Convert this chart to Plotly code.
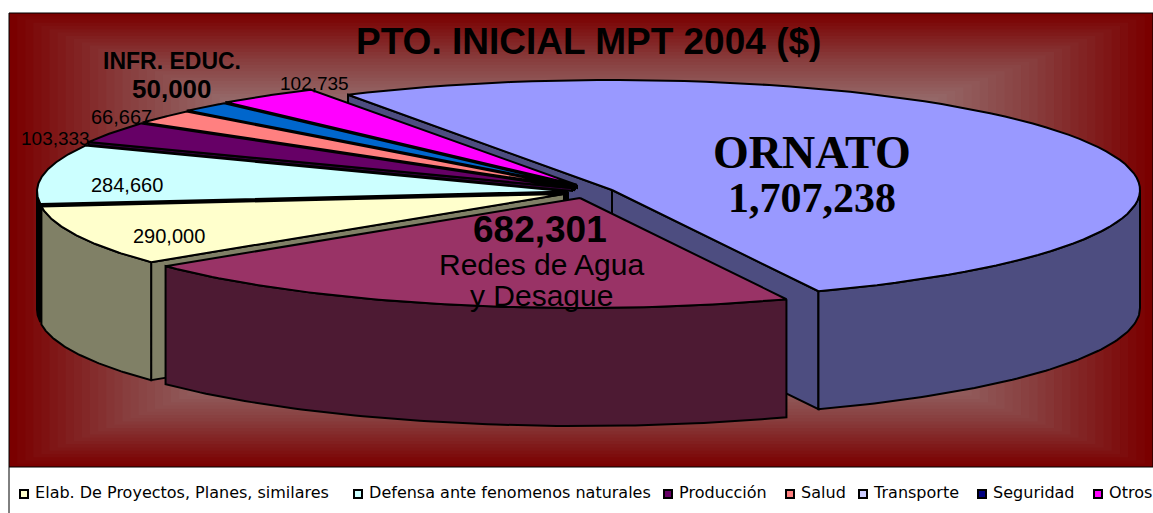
import numpy as np
import plotly.graph_objects as go

# ---------- data ----------
slice_names = ["Transporte", "Redes de Agua y Desague", "Elab. De Proyectos, Planes, similares",
               "Defensa ante fenomenos naturales", "Producción", "Salud", "Seguridad", "Otros"]
slice_values = [1707238, 682301, 290000, 284660, 103333, 66667, 50000, 102735]
slice_colors = ["#9999FF", "#993366", "#FFFFCC", "#CCFFFF", "#660066", "#FF8080", "#0066CC", "#FF00FF"]
wall_colors = ["#4D4D80", "#4D1A33", "#808066", "#000000", "#33003A", "#804040", "#003366", "#800080"]
legend_names = ["Elab. De Proyectos, Planes, similares", "Defensa ante fenomenos naturales", "Producción",
                "Salud", "Transporte", "Seguridad", "Otros"]
legend_colors = ["#FFFFCC", "#CCFFFF", "#660066", "#FF8080", "#CCCCFF", "#000080", "#FF00FF"]

# ---------- projection of the 3D pie (pixel-space axes) ----------
START = -30.0
B, DEPTH = 110, 118
apex = {0: (612, 190), 1: (580, 198), 2: (564, 194), 3: (568, 191.5),
        4: (572, 188), 5: (574, 187), 6: (575, 186), 7: (577, 185)}
axis_a = {0: 528, 1: 528, 2: 526, 3: 531, 4: 532, 5: 532, 6: 532, 7: 532}

cum = np.cumsum([0] + slice_values) / sum(slice_values) * 360 + START


def arc(i, t0, t1, dz=0):
    t = np.radians(np.linspace(t0, t1, 80))
    cx, cy = apex[i]
    return cx + axis_a[i] * np.sin(t), cy - B * np.cos(t) + dz


def edge(i, t):
    x, y = arc(i, t, t)
    return float(x[0]), float(y[0])


fig = go.Figure()


def poly(x, y, color):
    fig.add_trace(go.Scatter(x=list(x), y=list(y), mode="lines", fill="toself", fillcolor=color,
                             line=dict(color="black", width=2), hoverinfo="skip", showlegend=False))


def top(i):
    x, y = arc(i, cum[i], cum[i + 1])
    cx, cy = apex[i]
    poly([cx, *x, cx], [cy, *y, cy], slice_colors[i])


def outer_wall(i, t0, t1):
    x, y = arc(i, t0, t1)
    xb, yb = arc(i, t1, t0, DEPTH)
    poly([*x, *xb, x[0]], [*y, *yb, y[0]], wall_colors[i])


def cut(i, t, depth=DEPTH):
    cx, cy = apex[i]
    ex, ey = edge(i, t)
    poly([cx, ex, ex, cx, cx], [cy, ey, ey + depth, cy + depth, cy], wall_colors[i])


# Ornato (back) ------------------------------------------------
cut(0, cum[0])
cut(0, cum[1])
outer_wall(0, 90, cum[1])
top(0)
# small back slices, from Otros down to Producción
for i in (7, 6, 5, 4):
    cut(i, cum[i], 3)
    top(i)
# Defensa
cut(3, cum[3], 30)
outer_wall(3, cum[3], 270)
top(3)
# Elab
cut(2, cum[2])
outer_wall(2, cum[2], cum[3])
top(2)
# Redes (front)
outer_wall(1, cum[1], cum[2])
top(1)

# ---------- background: rectangular gradient ----------
L, R, T, Bt = 9, 1153, 13, 467
CX, CY = 576, 240
shapes = []
stops = [(0.0, (152, 112, 112)), (0.6, (152, 112, 112)), (0.8, (136, 62, 62)), (1.0, (122, 0, 0))]
ts = [s[0] for s in stops]
for k in range(70, 0, -1):
    t = k / 70
    col = [int(np.interp(t, ts, [s[1][j] for s in stops])) for j in range(3)]
    shapes.append(dict(type="rect", layer="below", xref="x", yref="y",
                       x0=CX - t * (CX - L), x1=CX + t * (R - CX),
                       y0=CY - t * (CY - T), y1=CY + t * (Bt - CY),
                       line=dict(width=0), fillcolor=f"rgb({col[0]},{col[1]},{col[2]})"))
shapes.append(dict(type="rect", layer="above", xref="x", yref="y", x0=L, x1=R, y0=T, y1=Bt,
                   line=dict(color="black", width=1), fillcolor="rgba(0,0,0,0)"))
shapes.append(dict(type="line", layer="above", xref="x", yref="y", x0=L, x1=L, y0=Bt, y1=513,
                   line=dict(color="black", width=1)))

SANS = "Liberation Sans"
SERIF = "Liberation Serif"

# ---------- legend row ----------
LEG_SWATCH_X = [24, 358, 668, 790, 863, 982, 1098]
LEG_Y = 494
fig.add_trace(go.Scatter(
    x=LEG_SWATCH_X, y=[LEG_Y] * len(LEG_SWATCH_X), mode="markers+text",
    text=[" " + n for n in legend_names], textposition="middle right",
    textfont=dict(family="DejaVu Sans", size=16, color="black"),
    marker=dict(symbol="square", size=8, color=legend_colors, line=dict(color="black", width=2)),
    hoverinfo="skip", showlegend=False, cliponaxis=False))


def note(x, y, text, size, family=SANS, bold=False):
    fig.add_annotation(x=x, y=y, xref="x", yref="y", text=f"<b>{text}</b>" if bold else text,
                       showarrow=False, font=dict(size=size, family=family, color="black"),
                       xanchor="center", yanchor="middle")


note(588, 41, "PTO. INICIAL MPT 2004 ($)", 37, bold=True)
note(812, 152, "ORNATO", 46, SERIF, True)
note(812, 198, "1,707,238", 42, SERIF, True)
note(540, 229, "682,301", 37, bold=True)
note(541, 264, "Redes de Agua", 30)
note(541, 295, "y Desague", 30)
note(172, 61, "INFR. EDUC.", 23, bold=True)
note(172, 89, "50,000", 26, bold=True)
note(314, 83, "102,735", 19)
note(121, 117, "66,667", 20)
note(55, 138, "103,333", 19)
note(127, 185, "284,660", 20)
note(169, 236, "290,000", 20)

fig.update_layout(
    width=1153, height=513, autosize=False,
    margin=dict(l=0, r=0, t=0, b=0),
    paper_bgcolor="white", plot_bgcolor="white",
    xaxis=dict(range=[0, 1153], visible=False, fixedrange=True),
    yaxis=dict(range=[513, 0], visible=False, fixedrange=True),
    shapes=shapes,
    showlegend=False,
)

fig.write_html("out.html", config={"displayModeBar": False},
               post_script="document.body.style.margin='0';document.body.style.overflow='hidden';")
